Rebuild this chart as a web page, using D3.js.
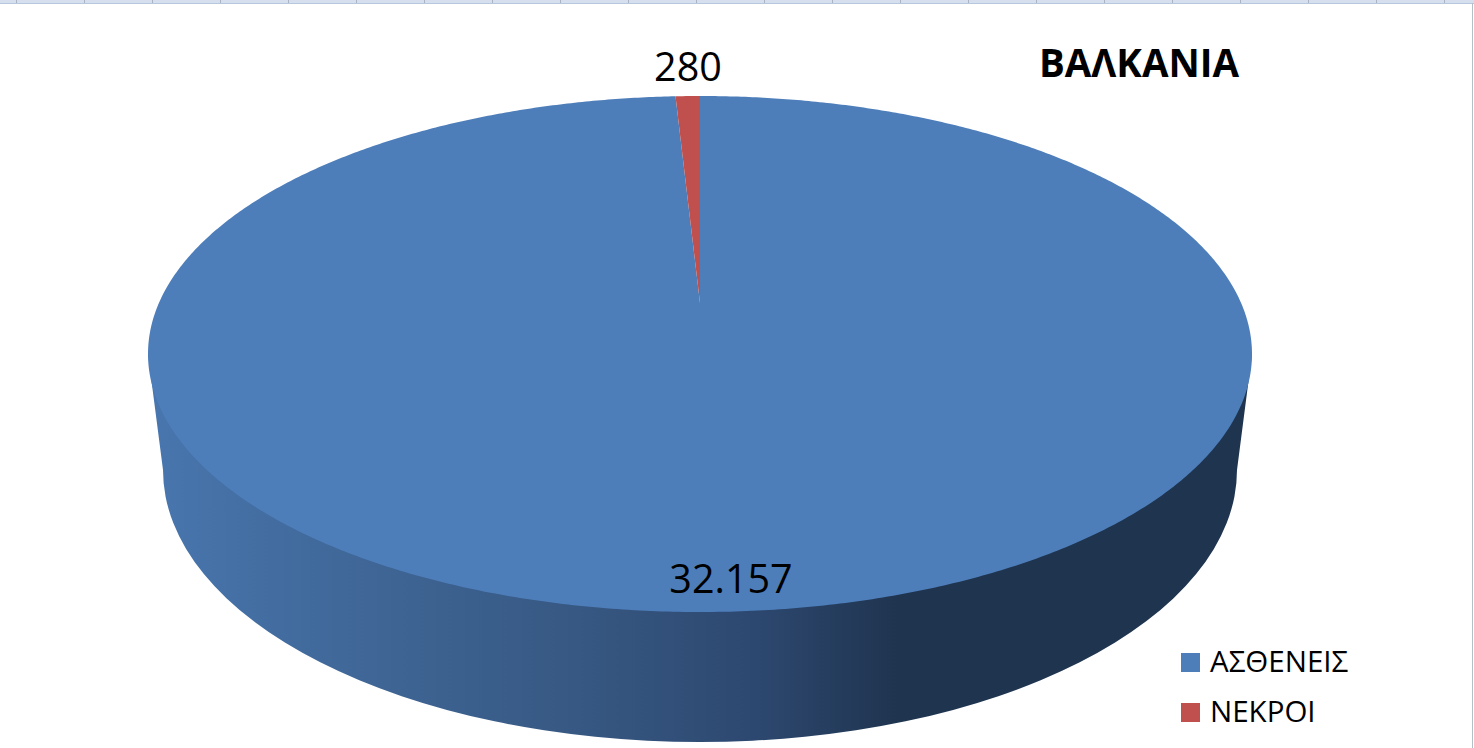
<!DOCTYPE html>
<html>
<head>
<meta charset="utf-8">
<style>html,body{margin:0;padding:0;background:#fff;overflow:hidden}svg{display:block}</style>
<script src="https://cdn.jsdelivr.net/npm/d3@7/dist/d3.min.js"></script>
</head>
<body>
<svg id="c" width="1474" height="748"></svg>
<script>
const categories = ["ΑΣΘΕΝΕΙΣ", "ΝΕΚΡΟΙ"];
const values = [32157, 280];
const valueLabels = ["32.157", "280"];
const colors = ["#4e7eba", "#c0504d"];
const chartTitle = "ΒΑΛΚΑΝΙΑ";
const font = "'Open Sans', 'Noto Sans', sans-serif";

const svg = d3.select("#c");
const defs = svg.append("defs");

// window frame
svg.append("rect").attr("width",1474).attr("height",748).attr("fill","#fff");
svg.append("rect").attr("width",1474).attr("height",3.5).attr("fill","#d6dfee");
svg.selectAll("line.t").data(d3.range(16.5,1474,68)).join("line").attr("class","t")
  .attr("x1",d=>d).attr("x2",d=>d).attr("y1",0).attr("y2",3.5).attr("stroke","#a9b3c4");
svg.append("line").attr("x1",0).attr("x2",1474).attr("y1",3.5).attr("y2",3.5).attr("stroke","#b9c7dc");
svg.append("line").attr("x1",1472.5).attr("x2",1472.5).attr("y1",3).attr("y2",748).attr("stroke","#b4c0c8");

// geometry of the tilted pie: the face is a circle seen in perspective,
// so its centre (the apex of the slices) sits above the middle of the ellipse
const face = {cx:700, apexY:303, top:96, bottom:612, halfWidth:552};
const base = {cx:700, cy:470, rx:537, ry:272};
const k = ((face.bottom-face.apexY)-(face.apexY-face.top)) / ((face.bottom-face.apexY)+(face.apexY-face.top));
const B = (face.bottom-face.apexY)*(1-k);
const A = face.halfWidth*Math.sqrt(1-k*k);
const project = a => {
  const u = Math.sin(a), v = -Math.cos(a), w = 1-k*v;
  return [face.cx + A*u/w, face.apexY + B*v/w];
};

// side wall
const grad = defs.append("linearGradient").attr("id","wall").attr("gradientUnits","userSpaceOnUse")
  .attr("x1",150).attr("x2",1250).attr("y1",0).attr("y2",0);
[[0,"#4876ae"],[0.2,"#3f6696"],[0.4,"#365781"],[0.55,"#2d4870"],[0.68,"#1f344f"],[1,"#1f344f"]]
  .forEach(([o,c])=>grad.append("stop").attr("offset",o).attr("stop-color",c));

const faceMidY = project(Math.PI/2 + Math.asin(k))[1];
svg.append("path")
  .attr("d",`M${face.cx-face.halfWidth},${faceMidY} L${base.cx-base.rx},${base.cy} A${base.rx},${base.ry} 0 0 0 ${base.cx+base.rx},${base.cy} L${face.cx+face.halfWidth},${faceMidY} Z`)
  .attr("fill","url(#wall)");

// top face
const pie = d3.pie().sort(null).startAngle(0).endAngle(2*Math.PI);
const outline = d3.line();
svg.append("g").selectAll("path").data(pie(values)).join("path")
  .attr("d",d=>{
    const n = Math.max(2, Math.ceil((d.endAngle-d.startAngle)*120));
    const rim = d3.range(n+1).map(i=>project(d.startAngle+(d.endAngle-d.startAngle)*i/n));
    return outline([[face.cx,face.apexY],...rim])+"Z";
  })
  .attr("fill",(d,i)=>colors[i]);

// value labels
svg.append("text").attr("x",688).attr("y",81).attr("text-anchor","middle")
  .attr("font-family",font).attr("font-size",39.5).attr("fill","#000").text(valueLabels[1]);
svg.append("text").attr("x",731).attr("y",593).attr("text-anchor","middle")
  .attr("font-family",font).attr("font-size",39.5).attr("fill","#000").text(valueLabels[0]);

// title
svg.append("text").attr("x",1139).attr("y",77).attr("text-anchor","middle")
  .attr("font-family",font).attr("font-weight",700).attr("font-size",38.5).attr("fill","#000").text(chartTitle);

// legend
const legend = svg.append("g").selectAll("g").data(categories).join("g")
  .attr("transform",(d,i)=>`translate(1181,${653+i*50})`);
legend.append("rect").attr("width",19).attr("height",19).attr("fill",(d,i)=>colors[i]);
legend.append("text").attr("x",29).attr("y",19).attr("font-family",font)
  .attr("font-size",29.5).attr("fill","#000").text(d=>d);
</script>
</body>
</html>
